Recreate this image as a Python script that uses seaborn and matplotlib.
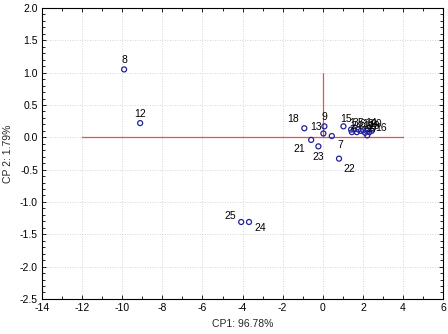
import matplotlib
matplotlib.use("Agg")
import matplotlib.pyplot as plt
from matplotlib.ticker import MultipleLocator
import seaborn as sns
import pandas as pd

# Sample scores on the first two principal components
sample_ids = [1, 2, 3, 4, 5, 6, 7, 8, 9, 10, 11, 12, 13,
              14, 15, 16, 17, 18, 19, 20, 21, 22, 23, 24, 25]
cp1 = [1.41, 1.45, 1.56, 1.70, 1.78, 1.90, 0.45, -9.91, 0.08, 2.02, 2.11, -9.11, 0.03,
       2.19, 1.03, 2.50, 2.22, -0.92, 2.32, 2.44, -0.58, 0.81, -0.22, -3.68, -4.07]
cp2 = [0.12, 0.08, 0.12, 0.08, 0.12, 0.10, 0.02, 1.05, 0.17, 0.11, 0.07, 0.22, 0.06,
       0.12, 0.17, 0.14, 0.03, 0.14, 0.08, 0.10, -0.04, -0.33, -0.14, -1.31, -1.31]

x_ticks = [-14, -12, -10, -8, -6, -4, -2, 0, 2, 4, 6]
y_ticks = [-2.5, -2.0, -1.5, -1.0, -0.5, 0.0, 0.5, 1.0, 1.5, 2.0]
x_label = "CP1: 96.78%"
y_label = "CP 2: 1.79%"

df = pd.DataFrame({"id": sample_ids, "CP1": cp1, "CP2": cp2})

sns.set_theme(style="white")
plt.rcParams["font.family"] = ["Liberation Sans", "DejaVu Sans"]

fig = plt.figure(figsize=(4.48, 3.34), dpi=100)
ax = fig.add_axes([0.094, 0.105, 0.895, 0.871])

# reference axes through the origin
ax.plot([-12, 4], [0, 0], color="#e8504a", lw=0.9, zorder=1)
ax.plot([0, 0], [0, 1.0], color="#e8504a", lw=0.9, zorder=1)

sns.scatterplot(data=df, x="CP1", y="CP2", ax=ax, s=13,
                facecolor="none", edgecolor="#22229a", linewidth=0.9,
                marker="o", zorder=3, legend=False)

# label offsets in points (dx, dy, ha, va)
offsets = {
    8: (0, 3, "center", "bottom"), 12: (0, 3, "center", "bottom"),
    25: (-4, 1, "right", "bottom"), 24: (4, -1, "left", "top"),
    18: (-4, 3, "right", "bottom"), 9: (0, 3, "center", "bottom"),
    13: (-1, 1, "right", "bottom"), 7: (4, -3, "left", "top"),
    21: (-4, -3, "right", "top"), 23: (0, -4, "center", "top"),
    22: (3, -4, "left", "top"), 15: (-2, 2, "left", "bottom"),
    16: (2, 0, "left", "center"),
}
for sid, x, y in zip(sample_ids, cp1, cp2):
    dx, dy, ha, va = offsets.get(sid, (-1, 1, "left", "bottom"))
    ax.annotate(str(sid), (x, y), xytext=(dx, dy), textcoords="offset points",
                ha=ha, va=va, fontsize=7.5, color="black", zorder=4)

ax.set_xlim(-14, 6)
ax.set_ylim(-2.5, 2.0)
ax.set_xticks(x_ticks)
ax.set_yticks(y_ticks)
ax.set_xticklabels([str(t) for t in x_ticks])
ax.set_yticklabels([f"{t:.1f}" for t in y_ticks])
ax.xaxis.set_minor_locator(MultipleLocator(1))
ax.yaxis.set_minor_locator(MultipleLocator(0.1))
ax.tick_params(which="both", direction="in", top=True, right=True,
               bottom=True, left=True, colors="black", labelsize=7.5, width=0.6)
ax.tick_params(which="major", length=3, pad=3)
ax.tick_params(which="minor", length=2)
ax.grid(True, which="major", color="#c8c8c8", linestyle=(0, (1, 2)), linewidth=0.6)
ax.set_axisbelow(True)
for sp in ax.spines.values():
    sp.set_color("black")
    sp.set_linewidth(0.8)

ax.set_xlabel(x_label, fontsize=7.5, labelpad=4)
ax.set_ylabel(y_label, fontsize=7.5, labelpad=5)

fig.savefig("out.png", dpi=100)
